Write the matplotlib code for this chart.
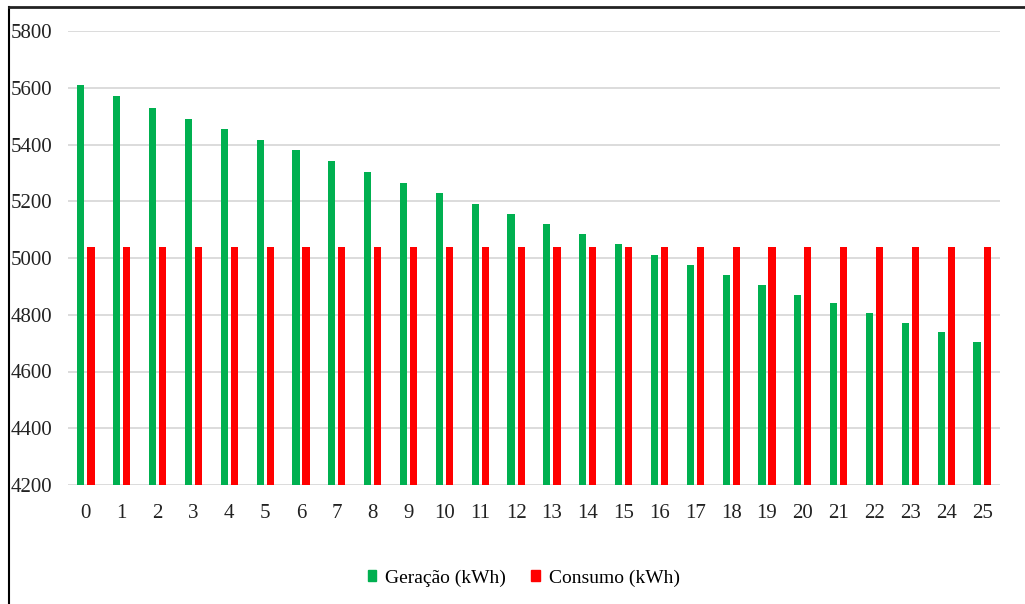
import numpy as np
import matplotlib.pyplot as plt
from matplotlib.lines import Line2D
from matplotlib.patches import Patch

# Data
anos = list(range(26))
geracao = [5611, 5572, 5530, 5491, 5455, 5417, 5380, 5343, 5304, 5265,
           5230, 5190, 5155, 5120, 5085, 5050, 5009, 4974, 4939, 4904,
           4869, 4841, 4806, 4772, 4738, 4703]
consumo = [5038] * 26
yticks = [4200, 4400, 4600, 4800, 5000, 5200, 5400, 5600, 5800]

verde = '#00b050'
vermelho = '#ff0000'

plt.rcParams['font.family'] = ['Liberation Serif', 'DejaVu Serif']

fig = plt.figure(figsize=(10.25, 6.04), dpi=100)
ax = fig.add_axes([68 / 1025, 1 - 485 / 604, 932 / 1025, 454 / 604])

x = np.arange(len(anos))
w = 0.2
ax.bar(x - 0.14, np.array(geracao) - 4200, w, bottom=4200, color=verde, zorder=3)
ax.bar(x + 0.14, np.array(consumo) - 4200, w, bottom=4200, color=vermelho, zorder=3)

ax.set_xlim(-0.5, 25.5)
ax.set_ylim(4200, 5800)
ax.set_yticks(yticks)
ax.set_xticks(x)
ax.set_xticklabels([str(a) for a in anos])
ax.yaxis.grid(True, color='#d9d9d9', linewidth=1.3, zorder=0)
ax.set_axisbelow(True)
for s in ax.spines.values():
    s.set_visible(False)
ax.tick_params(axis='both', length=0, labelsize=15, colors='#222222')
ax.tick_params(axis='x', pad=14)
ax.tick_params(axis='y', pad=11)

# legend
handles = [Patch(color=verde, label='Geração (kWh)'),
           Patch(color=vermelho, label='Consumo (kWh)')]
fig.legend(handles=handles, loc='center', bbox_to_anchor=(0.511, 1 - 578 / 604),
           ncol=2, frameon=False, fontsize=14, handlelength=0.45, handleheight=0.45,
           handletextpad=0.45, columnspacing=1.3)

# frame lines (top and left)
fig.add_artist(Line2D([9 / 1025, 9 / 1025], [0, 1 - 7 / 604], color='black', lw=1.5))
fig.add_artist(Line2D([9 / 1025, 1], [1 - 7 / 604, 1 - 7 / 604], color='#222222', lw=2))

fig.savefig('out.png', dpi=100)
